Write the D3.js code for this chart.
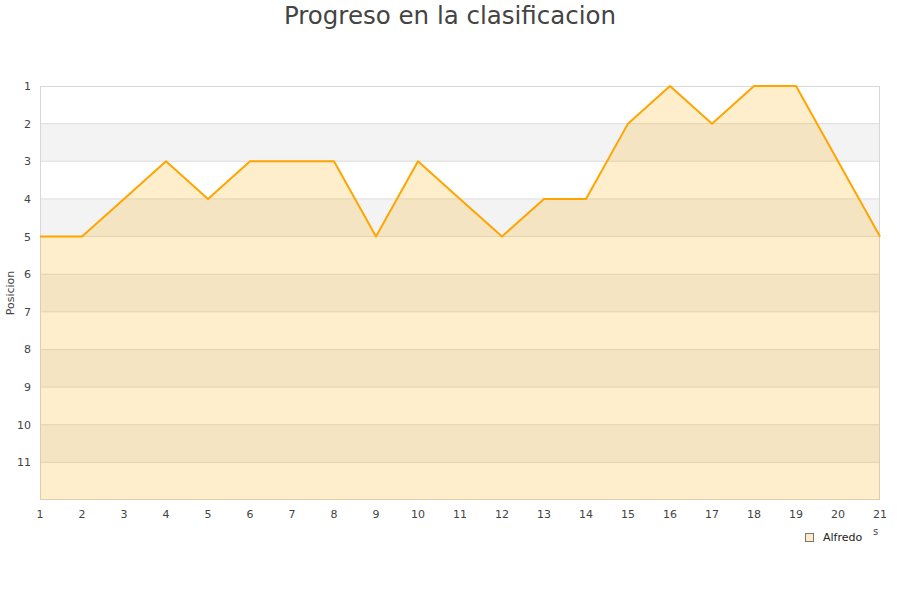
<!DOCTYPE html>
<html><head><meta charset="utf-8">
<script src="https://cdn.jsdelivr.net/npm/d3@7"></script>
<style>body{margin:0;background:#fff;font-family:"DejaVu Sans",sans-serif}</style>
</head><body><svg id="c" width="900" height="600"></svg>
<script>
const jornadas = [1,2,3,4,5,6,7,8,9,10,11,12,13,14,15,16,17,18,19,20,21];
const posiciones = [5,5,4,3,4,3,3,3,5,3,4,5,4,4,2,1,2,1,1,3,5];
const yTicks = [1,2,3,4,5,6,7,8,9,10,11];
const seriesName = "Alfredo";

const svg = d3.select("#c");
const L=40,R=880,T=86,B=500;
const x = d3.scaleLinear().domain([1,21]).range([L,R]);
const y = d3.scaleLinear().domain([1,12]).range([T,B]);

const bands=[2,4,6,8,10];
svg.selectAll("rect.band").data(bands).enter().append("rect")
 .attr("x",L).attr("width",R-L).attr("y",d=>y(d)).attr("height",d=>y(d+1)-y(d)).attr("fill","#f3f3f3");
svg.selectAll("line.g").data(yTicks.slice(1)).enter().append("line")
 .attr("x1",L).attr("x2",R).attr("y1",d=>y(d)).attr("y2",d=>y(d)).attr("stroke","#dddddd").attr("stroke-width",1);
svg.append("rect").attr("x",L+0.5).attr("y",T+0.5).attr("width",R-L-1).attr("height",B-T-1)
 .attr("fill","none").attr("stroke","#d8d8d8");

const pts = jornadas.map((j,i)=>[j,posiciones[i]]);
svg.append("path").datum(pts)
 .attr("d",d3.area().x(d=>x(d[0])).y0(y(12)).y1(d=>y(d[1])))
 .attr("fill","rgba(255,170,0,0.2)");
svg.append("path").datum(pts)
 .attr("d",d3.line().x(d=>x(d[0])).y(d=>y(d[1])))
 .attr("fill","none").attr("stroke","#ffa500").attr("stroke-width",2).attr("stroke-linejoin","round");

svg.selectAll("text.yt").data(yTicks).enter().append("text")
 .attr("x",31).attr("y",d=>y(d)+4).attr("text-anchor","end").attr("font-size",11).attr("fill","#444").text(d=>d);
svg.selectAll("text.xt").data(jornadas).enter().append("text")
 .attr("x",d=>x(d)).attr("y",518).attr("text-anchor","middle").attr("font-size",11).attr("fill","#444").text(d=>d);

svg.append("text").attr("transform","translate(14,293) rotate(-90)").attr("text-anchor","middle")
 .attr("font-size",11).attr("fill","#444").text("Posicion");
svg.append("text").attr("x",450).attr("y",24).attr("text-anchor","middle").attr("font-size",24.5).attr("fill","#444")
 .text("Progreso en la clasificacion");

svg.append("rect").attr("x",805.5).attr("y",533.5).attr("width",8).attr("height",8).attr("fill","#fdecc8").attr("stroke","#777");
svg.append("text").attr("x",823).attr("y",541).attr("font-size",11).attr("fill","#222").text(seriesName);
svg.append("text").attr("x",873).attr("y",535).attr("font-size",10).attr("fill","#444").text("s");
</script></body></html>
